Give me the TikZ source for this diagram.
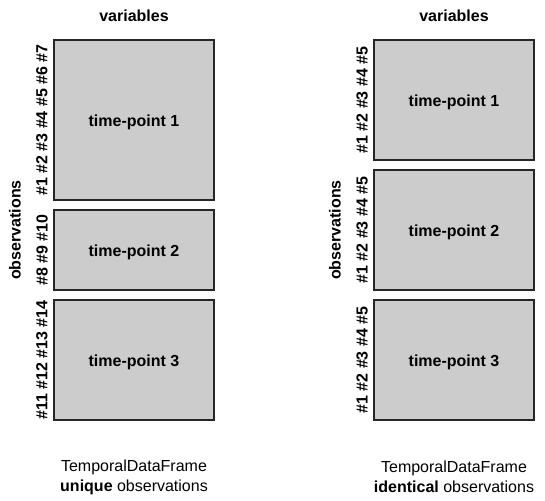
\documentclass[tikz,border=0pt]{standalone}
\usepackage{fontspec}
\setmainfont{Liberation Sans}
\begin{document}
\begin{tikzpicture}[x=1pt,y=-1pt,
  tp/.style={draw=black!85,line width=2pt,fill=black!20},
  lbl/.style={font=\fontsize{16}{19}\selectfont\bfseries,inner sep=0pt},
  obs/.style={font=\fontsize{16}{19}\selectfont\bfseries,inner sep=0pt,rotate=90},
  captxt/.style={font=\fontsize{16}{20}\selectfont,align=center,inner sep=0pt}]
\useasboundingbox (0,0) rectangle (545,500);
% left column
\draw[tp] (54,40) rectangle (214,200) node[pos=.5,lbl,yshift=-2pt] (l1) {time-point 1};
\draw[tp] (54,210) rectangle (214,290) node[pos=.5,lbl,yshift=-2pt] (l2) {time-point 2};
\draw[tp] (54,300) rectangle (214,420) node[pos=.5,lbl,yshift=-2pt] (l3) {time-point 3};
\node[lbl] (lv) at (134,16) {variables};
\node[obs] (lo) at (15,230) {observations};
\node[obs] (ln1) at (42,120) {\#1 \#2 \#3 \#4 \#5 \#6 \#7};
\node[obs] (ln2) at (42,250) {\#8 \#9 \#10};
\node[obs] (ln3) at (42,360) {\#11 \#12 \#13 \#14};
\node[captxt] (lc) at (134,477) {TemporalDataFrame\\\textbf{unique} observations};
% right column
\draw[tp] (374,40) rectangle (534,160) node[pos=.5,lbl,yshift=-2pt] (r1) {time-point 1};
\draw[tp] (374,170) rectangle (534,290) node[pos=.5,lbl,yshift=-2pt] (r2) {time-point 2};
\draw[tp] (374,300) rectangle (534,420) node[pos=.5,lbl,yshift=-2pt] (r3) {time-point 3};
\node[lbl] (rv) at (454,16) {variables};
\node[obs] (ro) at (335,230) {observations};
\node[obs] (rn1) at (362,100) {\#1 \#2 \#3 \#4 \#5};
\node[obs] (rn2) at (362,230) {\#1 \#2 \#3 \#4 \#5};
\node[obs] (rn3) at (362,360) {\#1 \#2 \#3 \#4 \#5};
\node[captxt] (rc) at (454,477) {TemporalDataFrame\\\textbf{identical} observations};
\end{tikzpicture}
\end{document}
